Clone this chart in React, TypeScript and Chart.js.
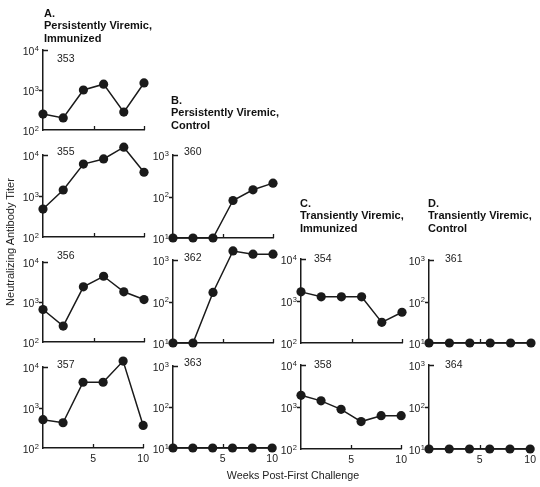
import React, { useEffect, useRef } from 'react';
import { Chart, registerables } from 'chart.js';

Chart.register(...registerables);

// ---------------- data ----------------
const weeks = [0, 2, 4, 6, 8, 10];
const xTickValues = [5, 10];

const titer353 = [250, 200, 1000, 1400, 280, 1500];
const titer355 = [480, 1400, 6000, 8000, 15500, 3800];
const titer356 = [650, 250, 2400, 4400, 1800, 1150];
const titer357 = [500, 420, 4200, 4200, 14000, 360];
const titer360 = [10, 10, 10, 80, 145, 210];
const titer362 = [10, 10, 165, 1650, 1380, 1380];
const titer363 = [10, 10, 10, 10, 10, 10];
const titer354 = [1650, 1260, 1260, 1260, 310, 540];
const titer358 = [1900, 1400, 880, 450, 620, 620];
const titer361 = [10, 10, 10, 10, 10, 10];
const titer364 = [10, 10, 10, 10, 10, 10];

const groupLetters = ['A.', 'B.', 'C.', 'D.'];
const groupLine1 = ['Persistently Viremic,', 'Persistently Viremic,', 'Transiently Viremic,', 'Transiently Viremic,'];
const groupLine2 = ['Immunized', 'Control', 'Immunized', 'Control'];

const yAxisTitle = 'Neutralizing Antibody Titer';
const xAxisTitle = 'Weeks Post-First Challenge';

// ---------------- layout ----------------
const INK = '#1a1a1a';
const TEXT = '#222';
const FONT = '"Liberation Sans", Arial, Helvetica, sans-serif';
const YW = 40; // y-axis box width
const PT = 16; // top padding
const PR = 10; // right padding
const XH = 22; // x-axis box height
const POINT_R = 4.6;

type PanelSpec = {
  id: string;
  data: number[];
  minExp: number;
  maxExp: number;
  axisX: number;
  right: number;
  top: number;
  bottom: number;
  labelX: number;
  labelY: number;
  showX: boolean;
};

const panels: PanelSpec[] = [
  { id: '353', data: titer353, minExp: 2, maxExp: 4, axisX: 43, right: 144, top: 50, bottom: 130, labelX: 57, labelY: 57.5, showX: false },
  { id: '355', data: titer355, minExp: 2, maxExp: 4, axisX: 43, right: 144, top: 155, bottom: 237, labelX: 57, labelY: 151, showX: false },
  { id: '356', data: titer356, minExp: 2, maxExp: 4, axisX: 43, right: 144, top: 262, bottom: 342, labelX: 57, labelY: 255, showX: false },
  { id: '357', data: titer357, minExp: 2, maxExp: 4, axisX: 43, right: 144, top: 367, bottom: 448, labelX: 57, labelY: 364, showX: true },
  { id: '360', data: titer360, minExp: 1, maxExp: 3, axisX: 173, right: 273, top: 155, bottom: 238, labelX: 184, labelY: 151, showX: false },
  { id: '362', data: titer362, minExp: 1, maxExp: 3, axisX: 173, right: 273, top: 260, bottom: 343, labelX: 184, labelY: 256.5, showX: false },
  { id: '363', data: titer363, minExp: 1, maxExp: 3, axisX: 173, right: 273, top: 366, bottom: 448, labelX: 184, labelY: 362, showX: true },
  { id: '354', data: titer354, minExp: 2, maxExp: 4, axisX: 301, right: 402, top: 259, bottom: 343, labelX: 314, labelY: 257.5, showX: false },
  { id: '358', data: titer358, minExp: 2, maxExp: 4, axisX: 301, right: 402, top: 365, bottom: 449, labelX: 314, labelY: 363.5, showX: true },
  { id: '361', data: titer361, minExp: 1, maxExp: 3, axisX: 429, right: 531, top: 260, bottom: 343, labelX: 445, labelY: 257.5, showX: false },
  { id: '364', data: titer364, minExp: 1, maxExp: 3, axisX: 429, right: 531, top: 365, bottom: 449, labelX: 445, labelY: 363.5, showX: true },
];

const groupTitlePos = [
  { left: 44, top: 6.5 },
  { left: 171, top: 93.5 },
  { left: 300, top: 196.5 },
  { left: 428, top: 196.5 },
];

// Tick marks, power-of-ten labels and points lying outside the plot box
const decorations = {
  id: 'decorations',
  afterDatasetsDraw(chart: any) {
    const { ctx, chartArea } = chart;
    const meta = chart.getDatasetMeta(0);
    ctx.save();
    ctx.fillStyle = INK;
    for (const el of meta.data) {
      const outside =
        el.y < chartArea.top - POINT_R / 2 ||
        el.y > chartArea.bottom + POINT_R / 2 ||
        el.x < chartArea.left - POINT_R / 2 ||
        el.x > chartArea.right + POINT_R / 2;
      if (outside) {
        ctx.beginPath();
        ctx.arc(el.x, el.y, POINT_R, 0, Math.PI * 2);
        ctx.fill();
      }
    }
    ctx.restore();
  },
  afterDraw(chart: any) {
    const { ctx, chartArea, scales } = chart;
    ctx.save();
    ctx.strokeStyle = INK;
    ctx.lineWidth = 1.3;
    ctx.beginPath();
    for (const v of xTickValues) {
      const px = Math.round(scales.x.getPixelForValue(v)) + 0.5;
      ctx.moveTo(px, chartArea.bottom);
      ctx.lineTo(px, chartArea.bottom - 4);
    }
    const ys = scales.y;
    const vals: number[] = ys.ticks.map((t: any) => t.value);
    const maxV = Math.max(...vals);
    const minV = Math.min(...vals);
    for (const v of vals) {
      const py = Math.round(ys.getPixelForValue(v)) + 0.5;
      if (v === maxV) {
        ctx.moveTo(chartArea.left, py);
        ctx.lineTo(chartArea.left + 5, py);
      } else if (v !== minV) {
        ctx.moveTo(chartArea.left - 4, py);
        ctx.lineTo(chartArea.left, py);
      }
    }
    ctx.stroke();

    // "10" with raised exponent
    ctx.fillStyle = TEXT;
    ctx.textBaseline = 'middle';
    ctx.textAlign = 'left';
    for (const v of vals) {
      const py = ys.getPixelForValue(v);
      const exp = String(Math.round(Math.log10(v)));
      ctx.font = `7.5px ${FONT}`;
      const ew = ctx.measureText(exp).width;
      ctx.font = `10.5px ${FONT}`;
      const bw = ctx.measureText('10').width;
      const xr = chartArea.left - 4;
      ctx.fillText('10', xr - ew - bw - 0.5, py + 2.5);
      ctx.font = `7.5px ${FONT}`;
      ctx.fillText(exp, xr - ew, py - 1.5);
    }
    ctx.restore();
  },
};

function Panel({ p }: { p: PanelSpec }) {
  const ref = useRef<HTMLCanvasElement>(null);
  const W = p.right - p.axisX;
  const H = p.bottom - p.top;
  const cw = YW + W + PR;
  const ch = PT + H + XH;

  useEffect(() => {
    if (!ref.current) return;
    const exps: number[] = [];
    for (let e = p.minExp; e <= p.maxExp; e++) exps.push(e);
    const chart = new Chart(ref.current, {
      type: 'line',
      data: {
        datasets: [
          {
            data: weeks.map((w, i) => ({ x: w, y: p.data[i] })),
            borderColor: INK,
            backgroundColor: INK,
            borderWidth: 1.5,
            pointRadius: POINT_R,
            pointBackgroundColor: INK,
            pointBorderColor: INK,
            pointBorderWidth: 0,
            tension: 0,
            clip: false,
          } as any,
        ],
      },
      options: {
        responsive: false,
        animation: false,
        devicePixelRatio: 1,
        events: [],
        layout: { padding: { top: PT, right: PR, left: 0, bottom: 0 } },
        plugins: { legend: { display: false }, tooltip: { enabled: false } },
        scales: {
          x: {
            type: 'linear',
            min: 0,
            max: 10,
            afterFit: (s: any) => {
              s.height = XH;
            },
            afterBuildTicks: (s: any) => {
              s.ticks = xTickValues.map((v) => ({ value: v }));
            },
            grid: { display: false, drawTicks: false },
            border: { display: true, color: INK, width: 1.5 },
            ticks: {
              display: p.showX,
              padding: 5,
              color: TEXT,
              font: { family: FONT, size: 10.5 },
              maxRotation: 0,
              callback: (v: any) => String(v),
            },
          },
          y: {
            type: 'logarithmic',
            min: Math.pow(10, p.minExp),
            max: Math.pow(10, p.maxExp),
            afterFit: (s: any) => {
              s.width = YW;
            },
            afterBuildTicks: (s: any) => {
              s.ticks = exps.map((e) => ({ value: Math.pow(10, e) }));
            },
            grid: { display: false, drawTicks: false },
            border: { display: true, color: INK, width: 1.5 },
            ticks: { display: false },
          },
        },
      } as any,
      plugins: [decorations],
    });
    return () => chart.destroy();
  }, []);

  return (
    <canvas
      ref={ref}
      width={cw}
      height={ch}
      style={{
        position: 'absolute',
        left: p.axisX - YW,
        top: p.top - PT,
        width: cw,
        height: ch,
      }}
    />
  );
}

export default function App() {
  return (
    <div
      style={{
        position: 'absolute',
        left: 0,
        top: 0,
        width: 540,
        height: 487,
        background: '#fff',
        overflow: 'hidden',
        fontFamily: FONT,
        color: TEXT,
      }}
    >
      {panels.map((p) => (
        <Panel key={p.id} p={p} />
      ))}
      {panels.map((p) => (
        <div
          key={'lbl' + p.id}
          style={{
            position: 'absolute',
            left: p.labelX,
            top: p.labelY - 7,
            fontSize: 10.5,
            lineHeight: '14px',
            whiteSpace: 'nowrap',
          }}
        >
          {p.id}
        </div>
      ))}
      {groupLetters.map((g, i) => (
        <div
          key={'grp' + i}
          style={{
            position: 'absolute',
            left: groupTitlePos[i].left,
            top: groupTitlePos[i].top,
            fontSize: 11,
            fontWeight: 'bold',
            lineHeight: '12.7px',
            whiteSpace: 'nowrap',
            color: '#111',
          }}
        >
          <div>{g}</div>
          <div>{groupLine1[i]}</div>
          <div>{groupLine2[i]}</div>
        </div>
      ))}
      <div
        style={{
          position: 'absolute',
          left: 9.5 - 100,
          top: 242 - 7,
          width: 200,
          height: 14,
          lineHeight: '14px',
          textAlign: 'center',
          fontSize: 11,
          transform: 'rotate(-90deg)',
          transformOrigin: '100px 7px',
          whiteSpace: 'nowrap',
        }}
      >
        {yAxisTitle}
      </div>
      <div
        style={{
          position: 'absolute',
          left: 293 - 100,
          top: 475 - 7,
          width: 200,
          height: 14,
          lineHeight: '14px',
          textAlign: 'center',
          fontSize: 10.7,
          whiteSpace: 'nowrap',
        }}
      >
        {xAxisTitle}
      </div>
    </div>
  );
}
